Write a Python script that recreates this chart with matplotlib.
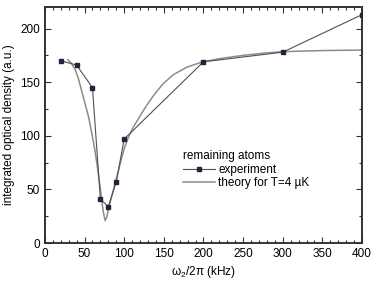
import numpy as np
import matplotlib.pyplot as plt
from matplotlib.ticker import MultipleLocator
from matplotlib.lines import Line2D

plt.rcParams['font.family'] = ['Liberation Sans', 'DejaVu Sans']
plt.rcParams['mathtext.fontset'] = 'custom'
plt.rcParams['mathtext.rm'] = 'Liberation Sans'
plt.rcParams['mathtext.it'] = 'Liberation Sans'

# datos experimentales
freq_exp = [20, 40, 60, 70, 80, 90, 100, 200, 300, 400]
od_exp = [170, 166, 145, 41, 34, 57, 97, 169, 178, 213]

# curva teorica
freq_th = [29, 34, 38, 42, 46, 50, 55, 59, 63, 66, 69, 72, 74, 76, 78, 80, 84, 88, 92,
           96, 100, 105, 111, 120, 128, 137, 149, 162, 179, 199, 225, 250,
           275, 300, 350, 400]
od_th = [171, 167, 162, 154, 143, 132, 118, 103, 87, 72, 56, 38, 28, 21, 24, 31, 43, 54, 65,
         77, 88, 98, 107.5, 118.5, 128, 137.5, 148.5, 157, 164, 169, 172.5, 175,
         177, 178.5, 179.5, 180]

fig = plt.figure(figsize=(3.74, 2.85), dpi=100)
ax = fig.add_axes([0.120, 0.147, 0.848, 0.828])

ax.plot(freq_th, od_th, color='#8c8c8c', lw=1.1, zorder=2)
ax.plot(freq_exp, od_exp, color='#505050', lw=0.8, marker='s', ms=3.5,
        mfc='#23233a', mec='#23233a', zorder=3)

ax.set_xlim(0, 400)
ax.set_ylim(0, 220)
ax.xaxis.set_major_locator(MultipleLocator(50))
ax.xaxis.set_minor_locator(MultipleLocator(10))
ax.yaxis.set_major_locator(MultipleLocator(50))
ax.yaxis.set_minor_locator(MultipleLocator(25))
ax.tick_params(which='both', direction='in', top=True, right=True, labelsize=8.5,
               color='#333333', width=0.8)
ax.tick_params(which='major', length=4)
ax.tick_params(which='minor', length=2)
for s in ax.spines.values():
    s.set_linewidth(1.4)
    s.set_color('#333333')

ax.set_xlabel(r'$\mathregular{\omega_2/2\pi}$ (kHz)', fontsize=8.5, labelpad=3)
ax.set_ylabel('integrated optical density (a.u.)', fontsize=8.5, labelpad=4)

handles = [Line2D([], [], color='#505050', lw=0.8, marker='s', ms=3.5,
                  mfc='#23233a', mec='#23233a'),
           Line2D([], [], color='#8c8c8c', lw=1.1)]
leg = ax.legend(handles, ['experiment', 'theory for T=4 µK'], title='remaining atoms',
                loc='upper left', bbox_to_anchor=(0.42, 0.415), frameon=False,
                fontsize=8.5, title_fontsize=8.5, handlelength=2.7,
                handletextpad=0.3, labelspacing=0.15, borderaxespad=0)
leg._legend_box.align = 'left'

plt.savefig('out.png', dpi=100)
